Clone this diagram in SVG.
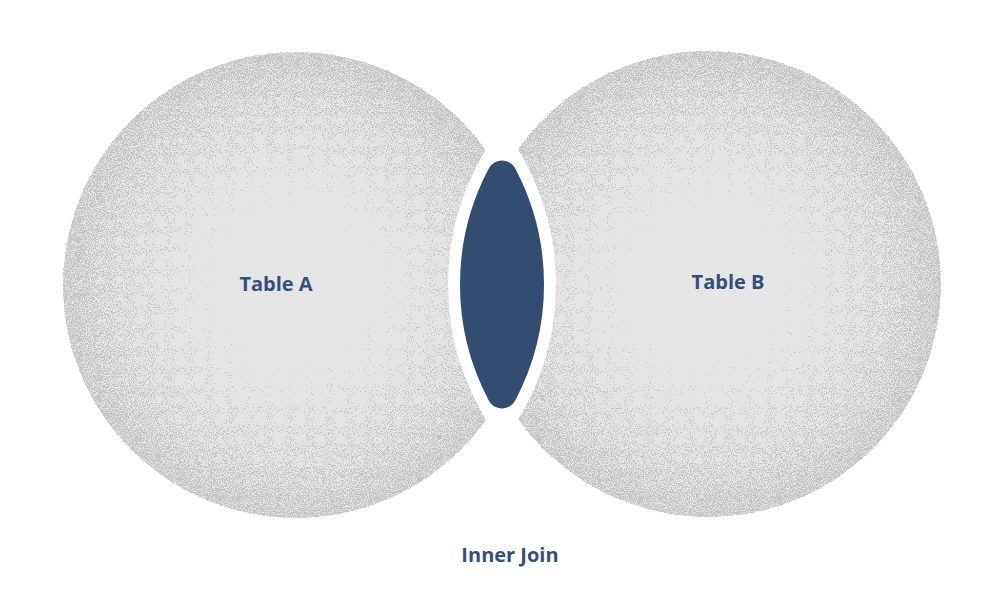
<svg xmlns="http://www.w3.org/2000/svg" width="1000" height="600" viewBox="0 0 1000 600">
  <defs>
    <radialGradient id="base" cx="0.5" cy="0.5" r="0.5">
      <stop offset="0" stop-color="#e6e6e6"/>
      <stop offset="1" stop-color="#e3e3e3"/>
    </radialGradient>
    <radialGradient id="dens" cx="0.5" cy="0.5" r="0.5">
      <stop offset="0" stop-color="#000" stop-opacity="0.001"/>
      <stop offset="0.34" stop-color="#000" stop-opacity="0.001"/>
      <stop offset="1" stop-color="#000" stop-opacity="0.6"/>
    </radialGradient>
    <filter id="stipple" x="0" y="0" width="1" height="1" color-interpolation-filters="sRGB">
      <feTurbulence type="fractalNoise" baseFrequency="0.95" numOctaves="1" seed="7" result="n"/>
      <feColorMatrix in="n" type="matrix" values="0 0 0 0 0  0 0 0 0 0  0 0 0 0 0  2 0 0 0 -0.5" result="na"/>
      <feComposite in="SourceGraphic" in2="na" operator="arithmetic" k1="0" k2="1" k3="1" k4="-0.5" result="sum"/>
      <feComponentTransfer in="sum" result="th">
        <feFuncA type="discrete" tableValues="0 1"/>
      </feComponentTransfer>
      <feFlood flood-color="#c6c6c6" result="col"/>
      <feComposite in="col" in2="th" operator="in" result="dots"/>
      <feComponentTransfer in="SourceAlpha" result="shape">
        <feFuncA type="discrete" tableValues="0 1 1 1 1 1 1 1 1 1 1 1 1 1 1 1 1 1 1 1 1 1 1 1 1 1 1 1 1 1 1 1 1 1 1 1 1 1 1 1 1 1 1 1 1 1 1 1 1 1 1 1 1 1 1 1 1 1 1 1 1 1 1 1 1 1 1 1 1 1 1 1 1 1 1 1 1 1 1 1 1 1 1 1 1 1 1 1 1 1 1 1 1 1 1 1 1 1 1 1 1 1 1 1 1 1 1 1 1 1 1 1 1 1 1 1 1 1 1 1 1 1 1 1 1 1 1 1 1 1 1 1 1 1 1 1 1 1 1 1 1 1 1 1 1 1 1 1 1 1 1 1 1 1 1 1 1 1 1 1 1 1 1 1 1 1 1 1 1 1 1 1 1 1 1 1 1 1 1 1 1 1 1 1 1 1 1 1 1 1 1 1 1 1 1 1 1 1 1 1 1 1 1 1 1 1 1 1 1 1 1 1 1 1 1 1 1 1 1 1 1 1 1 1 1 1 1 1 1 1 1 1 1 1 1 1 1 1 1 1 1 1 1 1 1 1"/>
      </feComponentTransfer>
      <feComposite in="dots" in2="shape" operator="in"/>
    </filter>
  </defs>
  <style>
    .disc { fill: url(#base); }
    .dots { fill: url(#dens); filter: url(#stipple); }
    .lbl { font-family: "Open Sans", "Noto Sans", sans-serif; font-weight: 700; font-size: 20px; fill: #34507a; text-anchor: middle; }
  </style>
  <rect width="1000" height="600" fill="#ffffff"/>
  <g id="table-a">
    <circle class="disc" cx="296" cy="285" r="233"/>
    <circle class="dots" cx="296" cy="285" r="233"/>
  </g>
  <g id="table-b">
    <circle class="disc" cx="708" cy="284" r="233"/>
    <circle class="dots" cx="708" cy="284" r="233"/>
  </g>
  <g id="inner-join">
    <path d="M502,125.9 A260,260 0 0,0 502,443.1 A260,260 0 0,0 502,125.9 Z" fill="#ffffff"/>
    <path d="M502,175.6 A233,233 0 0,0 502,393.4 A233,233 0 0,0 502,175.6 Z" fill="#324d70" stroke="#324d70" stroke-width="30" stroke-linejoin="round"/>
  </g>
  <g id="labels">
    <text class="lbl" x="276" y="291">Table A</text>
    <text class="lbl" x="728" y="289">Table B</text>
    <text class="lbl" x="510" y="562">Inner Join</text>
  </g>
</svg>
